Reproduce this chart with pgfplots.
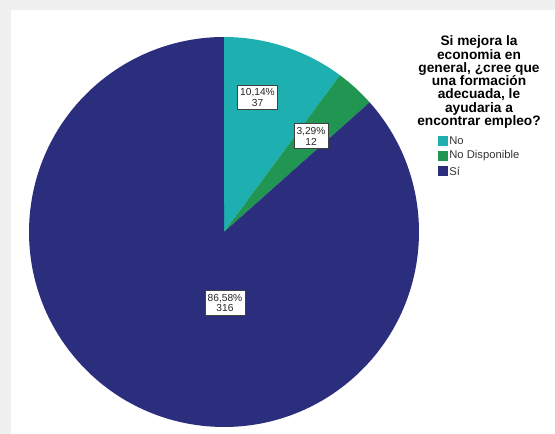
\documentclass[border=0pt]{standalone}
\usepackage{pgfplots}
\usepackage{pgfplotstable}
\pgfplotsset{compat=1.18}
\usepackage{fontspec}
\setmainfont{Liberation Sans}
\definecolor{cNo}{RGB}{30,176,176}
\definecolor{cND}{RGB}{32,150,82}
\definecolor{cSi}{RGB}{43,45,125}
\definecolor{bgGray}{RGB}{240,240,240}
\pgfplotstableread{
label value
No 37
NoDisp 12
Si 316
}\piedata
\pgfplotstablegetelem{0}{value}\of\piedata \let\vA\pgfplotsretval
\pgfplotstablegetelem{1}{value}\of\piedata \let\vB\pgfplotsretval
\pgfplotstablegetelem{2}{value}\of\piedata \let\vC\pgfplotsretval
\pgfmathsetmacro\tot{\vA+\vB+\vC}
\pgfmathsetmacro\aO{90}
\pgfmathsetmacro\aA{90-360*(\vA/\tot)}
\pgfmathsetmacro\aB{\aA-360*(\vB/\tot)}
\pgfmathsetmacro\aC{\aB-360*(\vC/\tot)}
\def\R{3.9}
\begin{document}%
\begin{tikzpicture}
\begin{axis}[hide axis, x=1cm, y=1cm, xmin=-4.48, xmax=6.62, ymin=-4.04, ymax=4.64,
  scale only axis, clip=false]
\coordinate (bl) at (rel axis cs:0,0);
\coordinate (tr) at (rel axis cs:1,1);
% background
\fill[white] (rel axis cs:0,0) rectangle (rel axis cs:1,1);
\fill[bgGray] (axis cs:-4.48,4.44) rectangle (axis cs:6.62,4.64);
\fill[bgGray] (axis cs:-4.48,-4.04) rectangle (axis cs:-4.26,4.44);
% slices
\fill[cNo] (axis cs:0,0) -- (axis cs:{\R*cos(\aO)},{\R*sin(\aO)}) arc[start angle=\aO, end angle=\aA, radius=\R cm] -- cycle;
\fill[cND] (axis cs:0,0) -- (axis cs:{\R*cos(\aA)},{\R*sin(\aA)}) arc[start angle=\aA, end angle=\aB, radius=\R cm] -- cycle;
\fill[cSi] (axis cs:0,0) -- (axis cs:{\R*cos(\aB)},{\R*sin(\aB)}) arc[start angle=\aB, end angle=\aC, radius=\R cm] -- cycle;
% data labels
\tikzset{dl/.style={draw=black!75, line width=0.4pt, fill=white, align=center,
  inner xsep=1.5pt, inner ysep=1.8pt, text=black!85, font=\fontsize{5.8}{6.2}\selectfont}}
\node[dl] at (axis cs:0.67,2.69) {10,14\%\\37};
\node[dl] at (axis cs:1.74,1.92) {3,29\%\\12};
\node[dl] at (axis cs:0.02,-1.42) {86,58\%\\316};
% legend
\node[align=center, inner sep=0pt, font=\fontsize{7.8}{7.55}\selectfont\bfseries]
  at (axis cs:5.10,3.00) {Si mejora la\\economia en\\general, ¿cree que\\una formación\\adecuada, le\\ayudaria a\\encontrar empleo?};
\fill[cNo] (axis cs:4.28,1.72) rectangle (axis cs:4.48,1.92);
\fill[cND] (axis cs:4.28,1.42) rectangle (axis cs:4.48,1.62);
\fill[cSi] (axis cs:4.28,1.12) rectangle (axis cs:4.48,1.32);
\tikzset{le/.style={anchor=west, inner sep=0pt, font=\fontsize{6.4}{7}\selectfont, text=black!80}}
\node[le] at (axis cs:4.50,1.82) {No};
\node[le] at (axis cs:4.50,1.52) {No Disponible};
\node[le] at (axis cs:4.50,1.22) {Sí};
\end{axis}
\pgfresetboundingbox
\path (bl) rectangle (tr);
\end{tikzpicture}%
\end{document}
